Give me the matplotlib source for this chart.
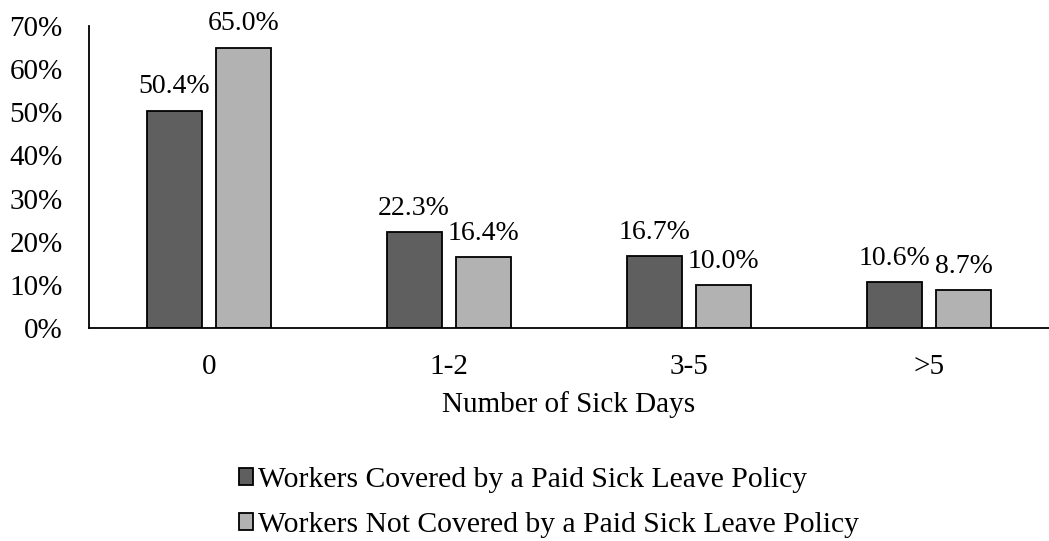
import matplotlib
matplotlib.use("Agg")
import matplotlib.pyplot as plt
import numpy as np

categories = ["0", "1-2", "3-5", ">5"]
covered = [50.4, 22.3, 16.7, 10.6]
not_covered = [65.0, 16.4, 10.0, 8.7]
series_names = ["Workers Covered by a Paid Sick Leave Policy",
                "Workers Not Covered by a Paid Sick Leave Policy"]
yticks = [0, 10, 20, 30, 40, 50, 60, 70]

plt.rcParams["font.family"] = ["Liberation Serif", "DejaVu Serif"]
FS = 21

fig = plt.figure(figsize=(10.49, 5.41), dpi=100)
ax = fig.add_axes([0.0848, 0.3937, 0.9152, 0.5582])

x = np.arange(len(categories))
w, off = 0.23, 0.145
b1 = ax.bar(x - off, covered, w, color="#5f5f5f", edgecolor="black", linewidth=1.3,
            label=series_names[0])
b2 = ax.bar(x + off, not_covered, w, color="#b2b2b2", edgecolor="black", linewidth=1.3,
            label=series_names[1])
for bars, vals in ((b1, covered), (b2, not_covered)):
    for r, v in zip(bars, vals):
        ax.annotate(f"{v:.1f}%", (r.get_x() + r.get_width() / 2, v), xytext=(0, 8),
                    textcoords="offset points", ha="center", va="bottom", fontsize=20)

ax.set_xlim(-0.5, 3.5)
ax.set_ylim(0, 70)
ax.set_yticks(yticks)
ax.set_yticklabels([f"{t}%" for t in yticks], fontsize=FS)
ax.set_xticks(x)
ax.set_xticklabels(categories, fontsize=FS)
ax.tick_params(axis="x", length=0, pad=19)
ax.tick_params(axis="y", length=0, pad=19)
for s in ("top", "right"):
    ax.spines[s].set_visible(False)
for s in ("left", "bottom"):
    ax.spines[s].set_linewidth(1.3)
ax.set_xlabel("Number of Sick Days", fontsize=FS, labelpad=8)

fig.legend(handles=[b1, b2], loc="center", bbox_to_anchor=(0.523, 0.071), ncol=1,
           frameon=False, fontsize=21.3, handlelength=0.5, handleheight=0.5,
           handletextpad=0.15, labelspacing=0.65)

fig.savefig("out.png", dpi=100)
